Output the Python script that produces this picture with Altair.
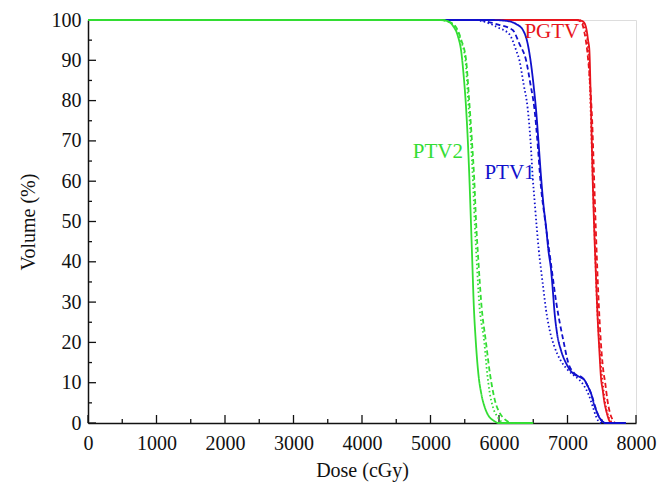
import altair as alt
import pandas as pd

# ---------------- data ----------------
# PGTV (red)
pgtv_solid_dose = [0, 7150, 7230, 7279, 7300, 7319, 7340, 7367, 7390, 7416, 7440, 7465, 7490, 7513, 7540, 7562, 7600, 7635, 7800]
pgtv_solid_vol = [100, 100, 99.6, 97.5, 95, 92.6, 80, 61, 48, 36.3, 26, 18, 11, 8.3, 5, 3.3, 1, 0, 0]
pgtv_dash_dose = [0, 7130, 7200, 7246, 7290, 7330, 7360, 7390, 7420, 7450, 7480, 7500, 7523, 7550, 7580, 7620, 7660, 7708, 7800]
pgtv_dash_vol = [100, 100, 99.5, 97, 92, 84, 75, 60, 45, 32, 22, 17, 13, 10, 6, 2.5, 0.8, 0, 0]
pgtv_dot_dose = [0, 7170, 7230, 7270, 7305, 7330, 7355, 7380, 7405, 7430, 7460, 7490, 7520, 7550, 7590, 7630, 7670, 7800]
pgtv_dot_vol = [100, 100, 99, 97, 92, 82, 68, 55, 42, 30, 21, 14, 9, 5, 2, 0.5, 0, 0]

# PTV1 (blue)
ptv1_solid_dose = [0, 5900, 6100, 6250, 6350, 6420, 6460, 6510, 6541, 6580, 6614, 6650, 6687, 6720, 6760, 6790, 6808, 6850, 6906, 6990, 7075, 7180, 7246, 7300, 7343, 7390, 7416, 7460, 7489, 7562, 7850]
ptv1_solid_vol = [100, 100, 99.8, 99, 97.5, 94, 90, 83, 77.7, 69, 61, 54, 48.7, 43, 38, 32, 28, 22, 18, 14.5, 12.4, 11.4, 10.7, 9, 7.4, 4.5, 3.3, 1.5, 0.8, 0, 0]
ptv1_dash_dose = [0, 5700, 5850, 6000, 6200, 6300, 6395, 6460, 6517, 6570, 6605, 6675, 6755, 6835, 6945, 7010, 7090, 7230, 7300, 7350, 7405, 7460, 7500, 7560, 7850]
ptv1_dash_vol = [100, 100, 99.5, 98.8, 97.5, 94, 90, 84, 78, 68, 60, 50, 40, 30, 20, 15, 12.5, 11, 9, 7, 4, 1.5, 0.5, 0, 0]
ptv1_dot_dose = [0, 5650, 5800, 6000, 6150, 6250, 6298, 6360, 6419, 6460, 6492, 6520, 6550, 6580, 6614, 6650, 6687, 6740, 6808, 6900, 7003, 7100, 7173, 7250, 7310, 7370, 7420, 7480, 7850]
ptv1_dot_vol = [100, 100, 99.5, 98, 96.5, 92.5, 90, 84, 78, 70, 61, 55, 48.7, 43, 38, 33, 28, 23, 19, 15.5, 13.2, 11.7, 10.7, 9, 7, 4, 1.5, 0, 0]

# PTV2 (green)
ptv2_solid_dose = [0, 5150, 5250, 5330, 5400, 5450, 5480, 5520, 5545, 5565, 5590, 5610, 5630, 5662, 5700, 5740, 5790, 5840, 5920, 6000, 6500]
ptv2_solid_vol = [100, 100, 99.7, 98.5, 96, 92, 87, 78, 70, 62, 50, 40, 30, 20, 12, 7.4, 4, 2, 0.6, 0, 0]
ptv2_dash_dose = [0, 5150, 5280, 5380, 5450, 5520, 5565, 5605, 5640, 5665, 5700, 5740, 5810, 5870, 5910, 5950, 6010, 6080, 6200, 6300]
ptv2_dash_vol = [100, 100, 99.5, 98, 95, 90, 80, 70, 60, 50, 40, 30, 20, 12, 8, 5, 2.5, 1, 0, 0]
ptv2_dot_dose = [0, 5150, 5270, 5370, 5440, 5510, 5550, 5590, 5620, 5645, 5675, 5710, 5785, 5830, 5860, 5910, 5980, 6080, 6300]
ptv2_dot_vol = [100, 100, 99.5, 98, 95, 90, 80, 70, 60, 50, 40, 30, 20, 12, 8, 4, 1.5, 0, 0]

structures = ["PGTV", "PTV1", "PTV2"]
colors = ["#e8141c", "#1010cc", "#33dd33"]
styles = ["solid", "dashed", "dotted"]

label_text = ["PGTV", "PTV1", "PTV2"]
label_dose = [6371, 5787, 4741]
label_vol = [95.5, 60.5, 65.7]

x_major = [0, 1000, 2000, 3000, 4000, 5000, 6000, 7000, 8000]
x_minor = [500, 1500, 2500, 3500, 4500, 5500, 6500, 7500]
y_major = [0, 10, 20, 30, 40, 50, 60, 70, 80, 90, 100]
y_minor = [5, 15, 25, 35, 45, 55, 65, 75, 85, 95]

# ---------------- build tables ----------------
series = {
    ("PGTV", "solid"): (pgtv_solid_dose, pgtv_solid_vol),
    ("PGTV", "dashed"): (pgtv_dash_dose, pgtv_dash_vol),
    ("PGTV", "dotted"): (pgtv_dot_dose, pgtv_dot_vol),
    ("PTV1", "solid"): (ptv1_solid_dose, ptv1_solid_vol),
    ("PTV1", "dashed"): (ptv1_dash_dose, ptv1_dash_vol),
    ("PTV1", "dotted"): (ptv1_dot_dose, ptv1_dot_vol),
    ("PTV2", "solid"): (ptv2_solid_dose, ptv2_solid_vol),
    ("PTV2", "dashed"): (ptv2_dash_dose, ptv2_dash_vol),
    ("PTV2", "dotted"): (ptv2_dot_dose, ptv2_dot_vol),
}
rows = []
for (s, st), (ds, vs) in series.items():
    for i, (d, v) in enumerate(zip(ds, vs)):
        rows.append({"dose": d, "vol": v, "structure": s, "style": st,
                     "series": s + "-" + st, "i": i})
df = pd.DataFrame(rows)

FONT = "Liberation Serif"
W, H = 548, 403

xscale = alt.Scale(domain=[0, 8000], nice=False, zero=False)
yscale = alt.Scale(domain=[0, 100], nice=False)
color_scale = alt.Scale(domain=structures, range=colors)
dash_scale = alt.Scale(domain=styles, range=[[1, 0], [5, 3], [1.5, 2.5]])

xaxis = alt.Axis(values=x_major, format="d", title="Dose (cGy)", ticks=False,
                 tickSize=0, labelPadding=10, domainColor="#111", domainWidth=1.5,
                 labelFont=FONT, labelFontSize=20, labelColor="#111",
                 titleFont=FONT, titleFontSize=20, titleFontWeight="normal",
                 titleColor="#111", titleX=W / 2, titleY=47, titleBaseline="middle",
                 grid=False, labelFlush=False)
yaxis = alt.Axis(values=y_major, format="d", title="Volume (%)", ticks=False,
                 tickSize=0, labelPadding=7, domainColor="#111", domainWidth=1.5,
                 labelFont=FONT, labelFontSize=20, labelColor="#111",
                 titleFont=FONT, titleFontSize=20, titleFontWeight="normal",
                 titleColor="#111", titleX=-60, titleY=H / 2, titleAngle=-90,
                 titleBaseline="middle", titleAlign="center",
                 grid=False, labelFlush=False)

X = alt.X("dose:Q", scale=xscale, axis=xaxis)
Y = alt.Y("vol:Q", scale=yscale, axis=yaxis)


def curves(name):
    return alt.Chart(df[df["structure"] == name]).mark_line(
        interpolate="monotone", strokeWidth=1.8
    ).encode(
        x=X, y=Y,
        color=alt.Color("structure:N", scale=color_scale, legend=None),
        strokeDash=alt.StrokeDash("style:N", scale=dash_scale, legend=None),
        detail="series:N",
        order="i:Q",
    )


labels_df = pd.DataFrame({"dose": label_dose, "vol": label_vol, "structure": label_text})
labels = alt.Chart(labels_df).mark_text(
    align="left", baseline="alphabetic", font=FONT, fontSize=21
).encode(
    x=X, y=Y, text="structure:N",
    color=alt.Color("structure:N", scale=color_scale, legend=None),
)

xt_major = alt.Chart(pd.DataFrame({"dose": x_major})).mark_rule(color="#111", strokeWidth=1.3).encode(
    x=X, y=alt.value(H), y2=alt.value(H - 8))
xt_minor = alt.Chart(pd.DataFrame({"dose": x_minor})).mark_rule(color="#111", strokeWidth=1.3).encode(
    x=X, y=alt.value(H), y2=alt.value(H - 4))
yt_major = alt.Chart(pd.DataFrame({"vol": y_major})).mark_rule(color="#111", strokeWidth=1.3).encode(
    y=Y, x=alt.value(0), x2=alt.value(8))
yt_minor = alt.Chart(pd.DataFrame({"vol": y_minor})).mark_rule(color="#111", strokeWidth=1.3).encode(
    y=Y, x=alt.value(0), x2=alt.value(4))

chart = alt.layer(
    xt_major, xt_minor, yt_major, yt_minor,
    curves("PGTV"), curves("PTV1"), curves("PTV2"), labels
).properties(
    width=W, height=H,
    autosize=alt.AutoSizeParams(type="none"),
    padding={"left": 80, "top": 12, "right": 26, "bottom": 68},
).configure_view(stroke=None).configure(background="white")

chart.save("out.html", embed_options={"renderer": "svg", "actions": False})
